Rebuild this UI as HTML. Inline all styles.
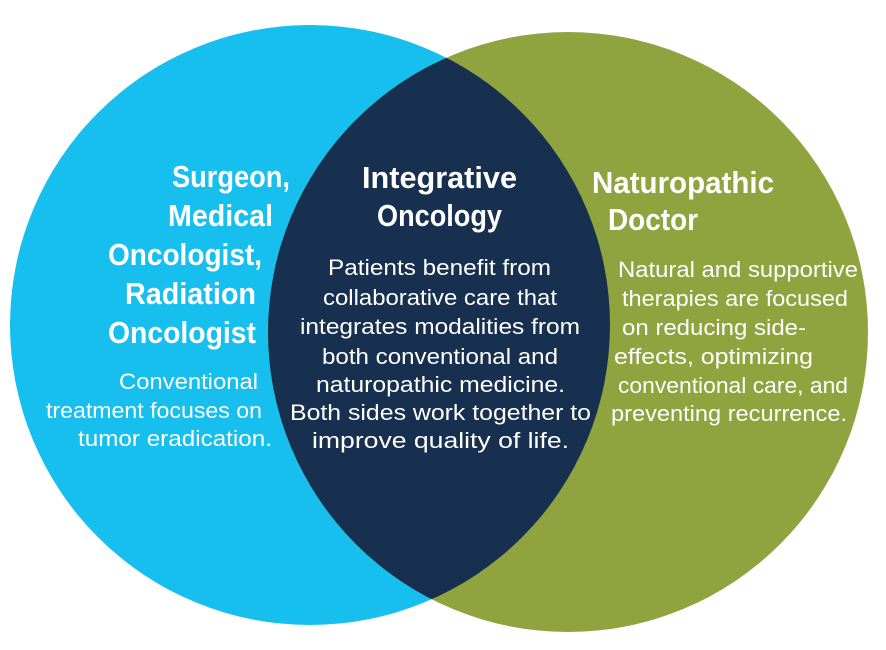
<!DOCTYPE html>
<html><head><style>html,body{margin:0;padding:0;background:#fff;width:886px;height:650px;overflow:hidden}</style></head>
<body>
<svg width="886" height="650" viewBox="0 0 886 650" xmlns="http://www.w3.org/2000/svg">
<defs><clipPath id="lc"><circle cx="310" cy="325" r="300"/></clipPath></defs>
<circle cx="310" cy="325" r="300" fill="#17BFEF"/>
<circle cx="568" cy="332" r="300" fill="#8FA33F"/>
<circle cx="568" cy="332" r="300" fill="#18304F" clip-path="url(#lc)"/>
<g fill="#fff" font-family="'Liberation Sans Narrow','Liberation Sans',sans-serif" font-weight="bold" font-size="31">
<text x="172" y="187" textLength="118" lengthAdjust="spacingAndGlyphs">Surgeon,</text>
<text x="168" y="226" textLength="105" lengthAdjust="spacingAndGlyphs">Medical</text>
<text x="108" y="265" textLength="154" lengthAdjust="spacingAndGlyphs">Oncologist,</text>
<text x="125" y="304" textLength="131" lengthAdjust="spacingAndGlyphs">Radiation</text>
<text x="108" y="343" textLength="148" lengthAdjust="spacingAndGlyphs">Oncologist</text>
<text x="362" y="188" textLength="155" lengthAdjust="spacingAndGlyphs">Integrative</text>
<text x="377" y="226" textLength="125" lengthAdjust="spacingAndGlyphs">Oncology</text>
<text x="592" y="193" textLength="182" lengthAdjust="spacingAndGlyphs">Naturopathic</text>
<text x="608" y="230" textLength="90" lengthAdjust="spacingAndGlyphs">Doctor</text>
</g>
<g fill="#fff" font-family="'Liberation Sans',sans-serif" font-size="22">
<text x="119" y="389" textLength="139" lengthAdjust="spacingAndGlyphs">Conventional</text>
<text x="46" y="418" textLength="216" lengthAdjust="spacingAndGlyphs">treatment focuses on</text>
<text x="78" y="446" textLength="194" lengthAdjust="spacingAndGlyphs">tumor eradication.</text>
<text x="328" y="275" textLength="223" lengthAdjust="spacingAndGlyphs">Patients benefit from</text>
<text x="323" y="305" textLength="234" lengthAdjust="spacingAndGlyphs">collaborative care that</text>
<text x="300" y="334" textLength="280" lengthAdjust="spacingAndGlyphs">integrates modalities from</text>
<text x="322" y="364" textLength="236" lengthAdjust="spacingAndGlyphs">both conventional and</text>
<text x="316" y="392" textLength="249" lengthAdjust="spacingAndGlyphs">naturopathic medicine.</text>
<text x="290" y="420" textLength="301" lengthAdjust="spacingAndGlyphs">Both sides work together to</text>
<text x="312" y="448" textLength="257" lengthAdjust="spacingAndGlyphs">improve quality of life.</text>
<text x="618" y="277" textLength="240" lengthAdjust="spacingAndGlyphs">Natural and supportive</text>
<text x="622" y="306" textLength="226" lengthAdjust="spacingAndGlyphs">therapies are focused</text>
<text x="622" y="335" textLength="184" lengthAdjust="spacingAndGlyphs">on reducing side-</text>
<text x="614" y="364" textLength="199" lengthAdjust="spacingAndGlyphs">effects, optimizing</text>
<text x="618" y="393" textLength="230" lengthAdjust="spacingAndGlyphs">conventional care, and</text>
<text x="611" y="421" textLength="236" lengthAdjust="spacingAndGlyphs">preventing recurrence.</text>
</g>
</svg>
</body></html>
